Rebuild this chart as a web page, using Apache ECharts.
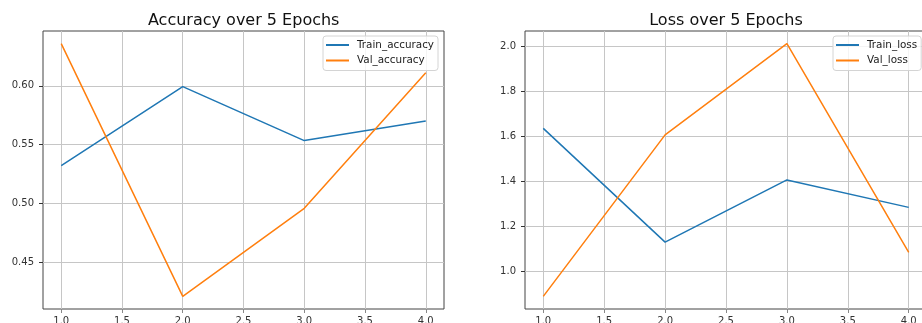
<!DOCTYPE html>
<html>
<head>
<meta charset="utf-8">
<script src="https://cdn.jsdelivr.net/npm/echarts@6/dist/echarts.min.js"></script>
<style>
  html, body { margin: 0; padding: 0; background: #fff; }
  #chart { width: 922px; height: 323px; }
</style>
</head>
<body>
<div id="chart"></div>
<script>
// Training history, one value per epoch
const epochs = [1, 2, 3, 4];
const trainAccuracy = [0.532, 0.5994, 0.5534, 0.570];
const valAccuracy = [0.636, 0.4207, 0.4957, 0.6113];
const trainLoss = [1.636, 1.131, 1.407, 1.285];
const valLoss = [0.890, 1.607, 2.012, 1.085];

// Tick labels
const epochTicks = [1.0, 1.5, 2.0, 2.5, 3.0, 3.5, 4.0];
const accuracyTicks = [0.45, 0.50, 0.55, 0.60];
const lossTicks = [1.0, 1.2, 1.4, 1.6, 1.8, 2.0];

const titles = ['Accuracy over 5 Epochs', 'Loss over 5 Epochs'];

const BLUE = '#1f77b4';
const ORANGE = '#ff7f0e';
const FONT = 'DejaVu Sans';

// Axis limits padded by 5% of the data span on each side
function padded(values) {
  const lo = Math.min(...values), hi = Math.max(...values);
  const m = (hi - lo) * 0.05;
  return [lo - m, hi + m];
}
const xLim = padded(epochs);
const accLim = padded(trainAccuracy.concat(valAccuracy));
const lossLim = padded(trainLoss.concat(valLoss));

const pairs = (ys) => epochs.map((x, i) => [x, ys[i]]);

function xAxisFor(gridIndex) {
  return {
    type: 'value', gridIndex, min: xLim[0], max: xLim[1],
    axisLine: { show: false },
    axisTick: { show: true, length: 4, customValues: epochTicks, lineStyle: { color: '#888', width: 1 } },
    axisLabel: { customValues: epochTicks, margin: 7.5, fontSize: 10, fontFamily: FONT, color: '#333',
                 formatter: (v) => v.toFixed(1) },
    splitLine: { show: true, lineStyle: { color: '#c6c6c6', width: 1 } }
  };
}
function yAxisFor(gridIndex, lim, ticks, digits) {
  return {
    type: 'value', gridIndex, min: lim[0], max: lim[1],
    axisLine: { show: false },
    axisTick: { show: true, length: 4, customValues: ticks, lineStyle: { color: '#333', width: 1 } },
    axisLabel: { customValues: ticks, margin: 9, fontSize: 10, fontFamily: FONT, color: '#333',
                 formatter: (v) => v.toFixed(digits) },
    splitLine: { show: true, lineStyle: { color: '#c6c6c6', width: 1 } }
  };
}
function line(name, data, color, xi, yi) {
  return {
    type: 'line', name, data, xAxisIndex: xi, yAxisIndex: yi,
    showSymbol: false, symbol: 'none', animation: false,
    lineStyle: { color, width: 1.5 }, itemStyle: { color }
  };
}
function legendFor(names, left) {
  return {
    data: names, orient: 'vertical', left, top: 36,
    icon: 'rect', itemWidth: 23, itemHeight: 2, itemGap: 5.5,
    textStyle: { fontSize: 10.4, fontFamily: FONT, color: '#222', padding: [0, 0, 0, 3] },
    backgroundColor: 'rgba(255,255,255,0.8)', borderColor: '#d4d4d4', borderWidth: 1,
    borderRadius: 3, padding: [4, 4, 5, 3]
  };
}

const chart = echarts.init(document.getElementById('chart'), null, { renderer: 'canvas' });
chart.setOption({
  animation: false,
  backgroundColor: '#ffffff',
  title: [
    { text: titles[0], left: 243.7, top: 13, textAlign: 'center', padding: 0,
      textStyle: { fontSize: 16, fontWeight: 'normal', fontFamily: FONT, color: '#111' } },
    { text: titles[1], left: 726, top: 13, textAlign: 'center', padding: 0,
      textStyle: { fontSize: 16, fontWeight: 'normal', fontFamily: FONT, color: '#111' } }
  ],
  grid: [
    { left: 43, top: 31, width: 401, height: 278, show: true, borderColor: '#444', borderWidth: 1,
      containLabel: false, outerBoundsMode: 'none' },
    { left: 525, top: 31, width: 402, height: 278, show: true, borderColor: '#444', borderWidth: 1,
      containLabel: false, outerBoundsMode: 'none' }
  ],
  xAxis: [xAxisFor(0), xAxisFor(1)],
  yAxis: [yAxisFor(0, accLim, accuracyTicks, 2), yAxisFor(1, lossLim, lossTicks, 1)],
  legend: [
    legendFor(['Train_accuracy', 'Val_accuracy'], 323),
    legendFor(['Train_loss', 'Val_loss'], 833)
  ],
  series: [
    line('Train_accuracy', pairs(trainAccuracy), BLUE, 0, 0),
    line('Val_accuracy', pairs(valAccuracy), ORANGE, 0, 0),
    line('Train_loss', pairs(trainLoss), BLUE, 1, 1),
    line('Val_loss', pairs(valLoss), ORANGE, 1, 1)
  ]
});
</script>
</body>
</html>
